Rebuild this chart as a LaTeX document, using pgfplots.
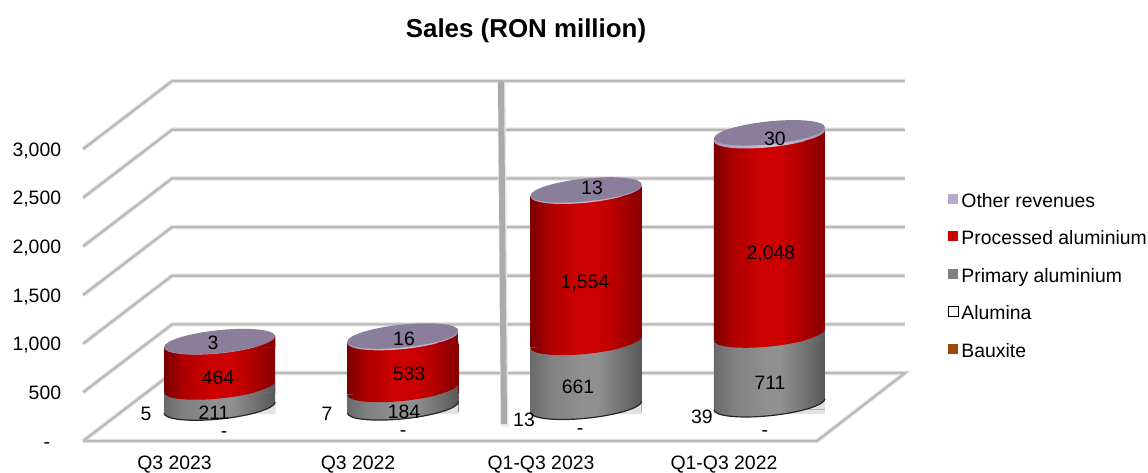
\documentclass[border=0pt]{standalone}
\usepackage{fontspec}
\setmainfont{Liberation Sans}
\usepackage{pgfplots}
\usepackage{pgfplotstable}
\pgfplotsset{compat=1.18}
\definecolor{gridc}{HTML}{B8B8B8}
\definecolor{gridsoft}{HTML}{E6E6E6}
\definecolor{capc}{HTML}{8A7E9B}
\definecolor{alu}{HTML}{E2E2E2}
\definecolor{ra}{HTML}{7A0000}\definecolor{rb}{HTML}{AE0000}\definecolor{rc}{HTML}{CC0000}\definecolor{rd}{HTML}{B80000}\definecolor{re}{HTML}{860000}
\definecolor{ga}{HTML}{6A6A6A}\definecolor{gb}{HTML}{808080}\definecolor{gc}{HTML}{909090}\definecolor{gd}{HTML}{7C7C7C}\definecolor{ge}{HTML}{585858}
\definecolor{la}{HTML}{A498B4}\definecolor{lc}{HTML}{CFC4DC}\definecolor{le}{HTML}{A094B0}
\definecolor{lilac}{HTML}{B7A8CE}\definecolor{bauxite}{HTML}{9C4A0C}
\pgfdeclarehorizontalshading{cylred}{100bp}{color(0bp)=(ra);color(25bp)=(ra);color(33.5bp)=(rb);color(46bp)=(rc);color(55bp)=(rc);color(62.5bp)=(rd);color(75bp)=(re);color(100bp)=(re)}
\pgfdeclarehorizontalshading{cylgray}{100bp}{color(0bp)=(ga);color(25bp)=(ga);color(33.5bp)=(gb);color(48bp)=(gc);color(55bp)=(gc);color(62.5bp)=(gd);color(75bp)=(ge);color(100bp)=(ge)}
\pgfdeclarehorizontalshading{cyllil}{100bp}{color(0bp)=(la);color(25bp)=(la);color(50bp)=(lc);color(75bp)=(le);color(100bp)=(le)}
% Ellipse of a stack level, in points from the bar's flat top: left end at the top of the bar
\def\fronthalf{(-55.5pt,0pt) .. controls (-55.5pt,-6.35pt) and (-30.65pt,-9.04pt) .. (0pt,-6pt) .. controls (30.65pt,-2.96pt) and (55.5pt,4.65pt) .. (55.5pt,11pt)}
\def\backhalf{.. controls (55.5pt,17.35pt) and (30.65pt,20.04pt) .. (0pt,17pt) .. controls (-30.65pt,13.96pt) and (-55.5pt,6.35pt) .. (-55.5pt,0pt)}
% the part of the front arc that rises above the flat top of the bar
\def\wedge{(34.9pt,0pt)--(40pt,1.49pt)--(45pt,3.23pt)--(50pt,5.46pt)--(53pt,7.34pt)--(55pt,9.41pt)--(55.5pt,11pt)--(55.5pt,0pt)--cycle}
\def\wedgeout{(34.9pt,-1pt)--(34.9pt,0pt)--(40pt,1.49pt)--(45pt,3.23pt)--(50pt,5.46pt)--(53pt,7.34pt)--(55pt,9.41pt)--(55.5pt,11pt)--(56.8pt,11pt)--(56.8pt,-1pt)--cycle}
\newcommand{\shadedwedge}[1]{\begin{scope}\clip \wedge;\path[shade,shading=#1] (-55.5pt,-1pt) rectangle (55.5pt,12pt);\end{scope}}
\pgfdeclareplotmark{arcbase}{\path[fill=alu] \fronthalf;}
\pgfdeclareplotmark{basewedge}{\path[fill=white] \wedgeout;\path[draw=black!80,line width=0.6pt] \fronthalf;}
\pgfdeclareplotmark{arcgray}{\path[shade,shading=cylgray] \fronthalf -- cycle;\path[fill=alu] \wedge;\path[draw=black!85,line width=1.2pt] \fronthalf;}
\pgfdeclareplotmark{arcred}{\path[shade,shading=cylred] \fronthalf -- cycle;\shadedwedge{cylgray}}
\pgfdeclareplotmark{arclil}{\path[shade,shading=cyllil] \fronthalf -- cycle;\shadedwedge{cylred}}
\pgfdeclareplotmark{redwedge}{\shadedwedge{cylred}}
\pgfdeclareplotmark{cap}{\shadedwedge{cyllil}\path[fill=capc] \fronthalf \backhalf -- cycle;}
\pgfplotstableread{
x Bauxite Alumina Primary Processed Other
0 0 5 211 464 3
1 0 7 184 533 16
2 0 13 661 1554 13
3 0 39 711 2048 30
}\sales
\pgfplotstableread{
x y
83 0
172 698.6
905 698.6
817 0
83 0
nan nan
83 500
172 1198.6
905 1198.6
nan nan
83 1000
172 1698.6
905 1698.6
nan nan
83 1500
172 2198.6
905 2198.6
nan nan
83 2000
172 2698.6
905 2698.6
nan nan
83 2500
172 3198.6
905 3198.6
nan nan
83 3000
172 3698.6
905 3698.6
}\walls
\pgfplotstableread{
x y label
146 420 5
327 420 7
524 426 13
702 423 39
214 419 211
404 418 184
578 393 661
770 389 711
218 384 464
409 380 533
585 288 1,554
771 259 2,048
213 349 3
404 345 16
592 194 13
775 145 30
224 437 -
403 436 -
580 434 -
765 436 -
}\labelstab
\pgfplotsset{full/.style={at={(0pt,0pt)},anchor=south west,width=1148pt,height=472pt,scale only axis,
  axis line style={draw=none},major tick length=0pt,clip=false,enlargelimits=false},
  every tick label/.append style={font=\fontsize{19.4}{23}\selectfont}}
\begin{document}
\begin{tikzpicture}
% walls, floor and value axis: y in RON million on the front plane, x in picture units
\begin{axis}[full,xmin=0,xmax=1148,ymin=-318.5,ymax=4530.9,
  xtick=\empty,
  ytick={0,500,1000,1500,2000,2500,3000},
  yticklabels={-\hspace*{11pt},500,{1,000},{1,500},{2,000},{2,500},{3,000}},
  yticklabel style={anchor=base east,xshift=61pt,yshift=-7pt,inner sep=0pt,outer sep=0pt},
  legend style={at={(948/1148,1-193/472)},anchor=north west,draw=none,fill=none,inner sep=0pt,outer sep=0pt,
    row sep=22pt,font=\fontsize{19.4}{23}\selectfont,
    nodes={inner sep=0pt}},
  legend cell align=left,
  legend image code/.code={\path[draw=none,fill=none] (0pt,-3pt) rectangle (13pt,7pt);\path[#1] (0pt,-3pt) rectangle (10pt,7pt);}]
\addplot[no marks,gridsoft,line width=4.5pt,unbounded coords=jump,forget plot] table[x=x,y=y] {\walls};
\addplot[no marks,gridc,line width=2.2pt,unbounded coords=jump,forget plot] table[x=x,y=y] {\walls};
\addplot[no marks,gridsoft,line width=8pt,forget plot] coordinates {(501.5,3688) (504.5,150)};
\addplot[no marks,color=black!33,line width=6pt,forget plot] coordinates {(501,3688) (504,175)};
\addlegendimage{fill=lilac,draw=none}\addlegendentry{Other revenues}
\addlegendimage{fill=rc,draw=none}\addlegendentry{Processed aluminium}
\addlegendimage{fill=gb,draw=none}\addlegendentry{Primary aluminium}
\addlegendimage{fill=white,draw=black,line width=1pt}\addlegendentry{Alumina}
\addlegendimage{fill=bauxite,draw=none}\addlegendentry{Bauxite}
\end{axis}
% cylinders, one axis pair for each: y in RON million, measured from the cylinder base
\foreach \a/\b in {-0.5/0.5,0.5/1.5,1.5/2.5,2.5/3.5}{
\begin{axis}[full,xmin=-1.1973,xmax=5.0646,ymin=-601,ymax=4248.4,xtick=\empty,ytick=\empty,
  ybar stacked,bar width=111pt,restrict x to domain=\a:\b]
\addplot[draw=none,fill=none,mark=arcbase] table[x=x,y=Bauxite] {\sales};
\addplot[draw=none,fill=alu,mark=none] table[x=x,y=Alumina] {\sales};
\addplot[draw=none,shade,shading=cylgray,mark=arcred] table[x=x,y=Primary] {\sales};
\addplot[draw=none,shade,shading=cylred,mark=arclil] table[x=x,y=Processed] {\sales};
\addplot[draw=none,shade,shading=cyllil,mark=none] table[x=x,y=Other] {\sales};
\end{axis}
\begin{axis}[full,xmin=-1.1973,xmax=5.0646,ymin=-601,ymax=4248.4,xtick=\empty,ytick=\empty,
  ybar stacked,bar width=111pt,restrict x to domain=\a:\b]
\addplot[draw=none,fill=none,mark=basewedge] table[x=x,y=Bauxite] {\sales};
\addplot[draw=none,fill=none,mark=arcgray] table[x=x,y=Alumina] {\sales};
\addplot[draw=none,fill=none,mark=none] table[x=x,y=Primary] {\sales};
\addplot[draw=none,fill=none,mark=redwedge] table[x=x,y=Processed] {\sales};
\addplot[draw=none,fill=none,mark=cap] table[x=x,y=Other] {\sales};
\end{axis}
}
% text: picture units, y downward
\begin{axis}[full,xmin=0,xmax=1148,ymin=0,ymax=472,y dir=reverse,ytick=\empty,
  xtick={174.5,358,541,724},xticklabels={Q3 2023,Q3 2022,Q1-Q3 2023,Q1-Q3 2022},
  xticklabel style={anchor=base,yshift=3pt,inner sep=0pt,outer sep=0pt},
  title={\fontsize{25.9}{30}\selectfont\bfseries Sales (RON million)},
  title style={at={(526/1148,1-43.5/472)},anchor=base,inner sep=0pt}]
\addplot[only marks,mark=none,draw=none,nodes near coords,point meta=explicit symbolic,
  nodes near coords style={anchor=base,inner sep=0pt,outer sep=0pt,font=\fontsize{19.4}{23}\selectfont,text=black}]
  table[x=x,y=y,meta=label] {\labelstab};
\end{axis}
\end{tikzpicture}
\end{document}
